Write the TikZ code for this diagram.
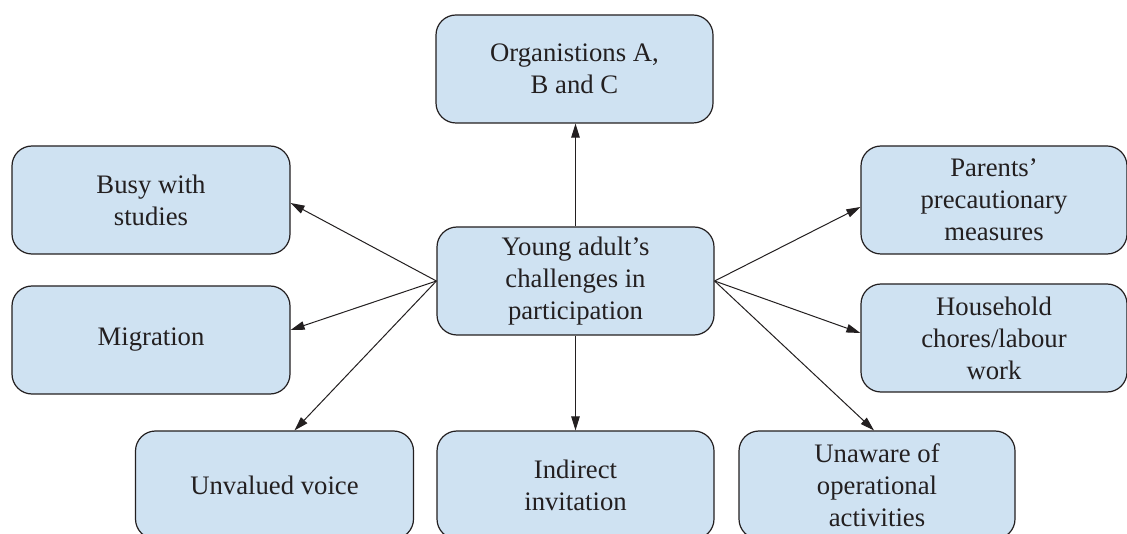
\documentclass[tikz,border=0pt]{standalone}
\usepackage{fontspec}
\setmainfont{Liberation Serif}
\usetikzlibrary{arrows.meta}
\definecolor{boxfill}{RGB}{207,226,242}
\definecolor{ink}{RGB}{35,31,32}
\tikzset{
  card/.style={draw=ink, line width=1.2pt, fill=boxfill, rounded corners=20pt,
    minimum height=108pt, align=center, text=ink,
    font=\fontsize{26.7}{32}\selectfont, inner sep=0pt},
  link/.style={draw=ink, line width=1pt, -{Triangle[length=14pt,width=8.5pt]}}
}
\begin{document}
\begin{tikzpicture}[x=1pt,y=-1pt]
\useasboundingbox (0,0) rectangle (1127,534);
\clip (0,0) rectangle (1127,534);
\fill[white] (0,0) rectangle (1127,534);

\node[card, minimum width=277pt] (hub) at (575.5,281) {Young adult’s\\challenges in\\participation};
\node[card, minimum width=277pt] (org) at (574.5,69) {Organistions A,\\B and C};
\node[card, minimum width=278pt] (busy) at (151,200) {Busy with\\studies};
\node[card, minimum width=278pt] (migr) at (151,340) {Migration};
\node[card, minimum width=266pt] (par) at (994,200) {Parents’\\precautionary\\measures};
\node[card, minimum width=266pt] (house) at (994,338) {Household\\chores/labour\\work};
\node[card, minimum width=278pt] (voice) at (274.5,485) {Unvalued voice};
\node[card, minimum width=277pt] (invite) at (575.5,485) {Indirect\\invitation};
\node[card, minimum width=276pt] (unaware) at (877,485) {Unaware of\\operational\\activities};

\draw[link] (hub.north) -- (hub.north |- org.south);
\draw[link] (hub.south) -- (invite.north);
\draw[link] (hub.west) -- ([yshift=-3pt]busy.east);
\draw[link] (hub.west) -- ([yshift=10pt]migr.east);
\draw[link] (hub.west) -- ([xshift=20pt]voice.north);
\draw[link] (hub.east) -- ([yshift=-7pt]par.west);
\draw[link] (hub.east) -- ([yshift=5pt]house.west);
\draw[link] (hub.east) -- ([xshift=-3pt]unaware.north);
\end{tikzpicture}
\end{document}
